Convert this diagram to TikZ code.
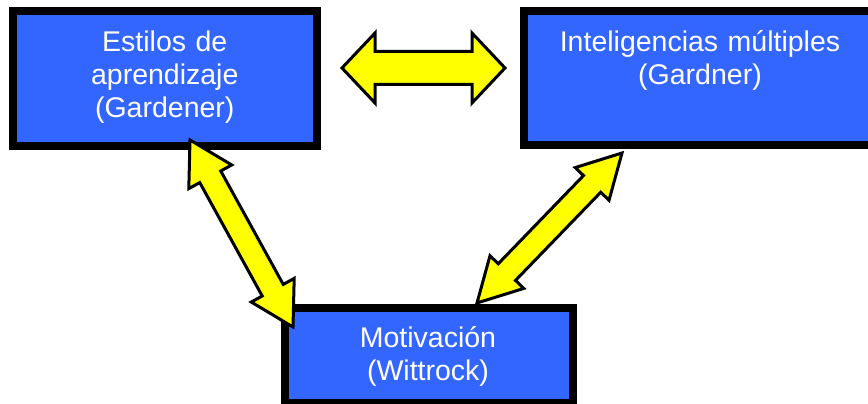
\documentclass[tikz,border=0pt]{standalone}
\usepackage{fontspec}
\setmainfont{Liberation Sans}
\usetikzlibrary{calc}
\definecolor{boxblue}{HTML}{3366FF}
\definecolor{arrowyellow}{HTML}{FFFF00}
% #1 tip A, #2 tip B, #3 head length, #4 head half-width, #5 shaft half-width
\newcommand\blockarrow[5]{%
  \draw[blockarr] (#1)
    -- ($(#1)!#3!(#2)!#4!90:(#2)$)
    -- ($(#1)!#3!(#2)!#5!90:(#2)$)
    -- ($(#2)!#3!(#1)!#5!-90:(#1)$)
    -- ($(#2)!#3!(#1)!#4!-90:(#1)$)
    -- (#2)
    -- ($(#2)!#3!(#1)!#4!90:(#1)$)
    -- ($(#2)!#3!(#1)!#5!90:(#1)$)
    -- ($(#1)!#3!(#2)!#5!-90:(#2)$)
    -- ($(#1)!#3!(#2)!#4!-90:(#2)$)
    -- cycle;}
\begin{document}
\begin{tikzpicture}[x=1pt,y=-1pt,
  box/.style={draw=black, fill=boxblue, line width=8pt, rectangle, inner sep=0pt},
  boxtext/.style={text=white, align=center, anchor=base, text width=340pt, inner sep=0pt,
    font=\fontsize{28.5}{33}\selectfont},
  blockarr/.style={draw=black, fill=arrowyellow, line width=3pt, line join=miter}]
\useasboundingbox (0,0) rectangle (868,404);
\clip (0,0) rectangle (868,404);
\fill[white] (0,0) rectangle (868,404);

\node[box, minimum width=304.5pt, minimum height=134.5pt] (estilos) at (164.75,78.25) {};
\node[box, minimum width=356pt, minimum height=134pt] (intel) at (702,78) {};
\node[box, minimum width=288pt, minimum height=95.5pt] (motiv) at (429,355.25) {};

\node[boxtext] (estilosT) at (164.75,52) {Estilos de\\aprendizaje\\(Gardener)};
\node[boxtext] (intelT) at (700,52) {Inteligencias múltiples\\(Gardner)};
\node[boxtext] (motivT) at (428,347) {Motivación\\(Wittrock)};

\coordinate (hA) at (342,68);
\coordinate (hB) at (505,68);
\coordinate (lA) at (190,140);
\coordinate (lB) at (293,327);
\coordinate (rA) at (622,153);
\coordinate (rB) at (477,303);

\blockarrow{hA}{hB}{33pt}{35pt}{16.5pt}
\blockarrow{lA}{lB}{42pt}{24.5pt}{12pt}
\blockarrow{rA}{rB}{43pt}{23.5pt}{12pt}
\end{tikzpicture}
\end{document}
